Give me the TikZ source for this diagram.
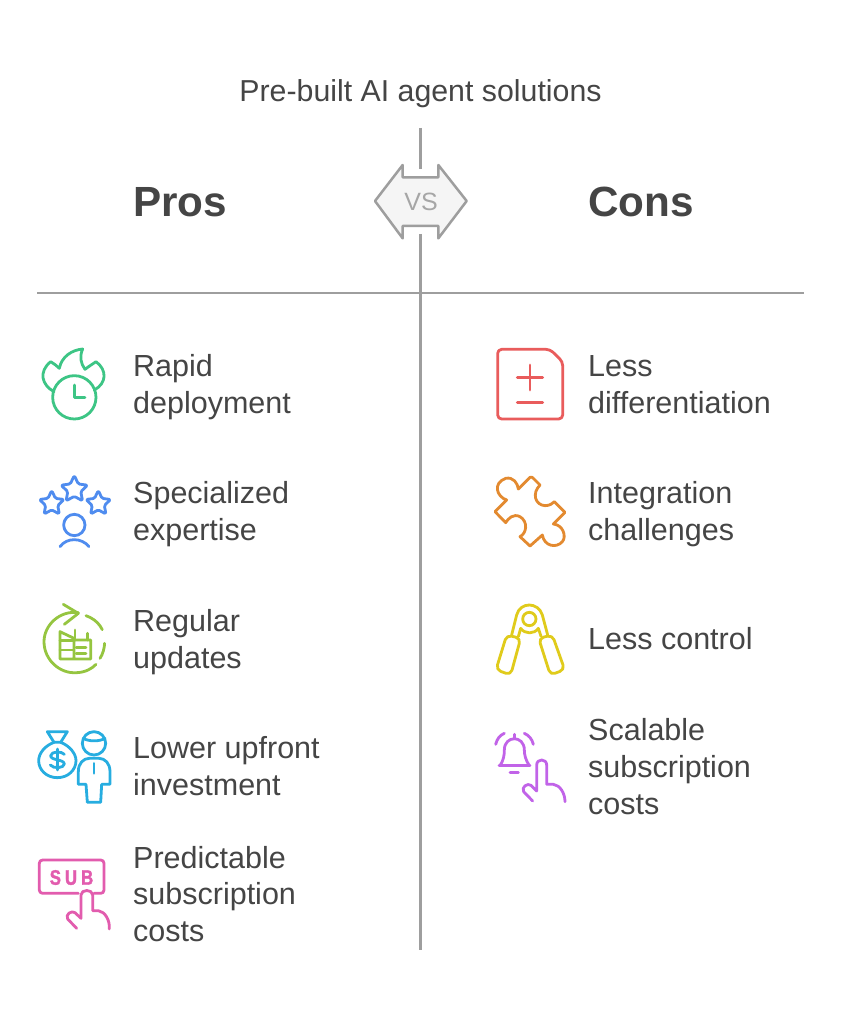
\documentclass[tikz,border=0pt]{standalone}
\usepackage{fontspec}
\setmainfont{Liberation Sans}
\newfontfamily\subfont[FakeStretch=0.8,FakeBold=1.6]{Liberation Sans Bold}
\usetikzlibrary{shapes.geometric}
\definecolor{txt}{HTML}{454545}
\definecolor{rule}{HTML}{9E9E9E}
\definecolor{vsfill}{HTML}{F5F5F5}
\definecolor{vstxt}{HTML}{A6A6A6}
\definecolor{cgreen}{HTML}{3DC585}
\definecolor{cblue}{HTML}{4F8CEF}
\definecolor{clime}{HTML}{95C540}
\definecolor{ccyan}{HTML}{27ADE0}
\definecolor{cpink}{HTML}{E25CAE}
\definecolor{cred}{HTML}{E95C5C}
\definecolor{corange}{HTML}{E38A30}
\definecolor{cyellow}{HTML}{E0CB1B}
\definecolor{cpurple}{HTML}{C163E8}
\tikzset{
  rulel/.style={draw=rule,line width=2.7pt},
  ttl/.style={font=\fontsize{30.3}{35}\selectfont,text=txt,inner sep=0pt},
  head/.style={font=\fontsize{42.2}{50}\selectfont\bfseries,text=txt,inner sep=0pt,anchor=west},
  item/.style={font=\fontsize{30.5}{36.7}\selectfont,text=txt,inner sep=0pt,anchor=west,align=left},
  ic/.style={line width=2.8pt,line join=round,line cap=round},
  zoomed/.style={x=0.33333pt,y=-0.33333pt}
}
\begin{document}
\begin{tikzpicture}[x=1pt,y=-1pt]
\useasboundingbox (0,0) rectangle (842,1024);
\fill[white] (0,0) rectangle (842,1024);
% rules
\coordinate (vt) at (420.5,128);
\coordinate (vu) at (420.5,169.5);
\coordinate (vl) at (420.5,234);
\coordinate (vb) at (420.5,950);
\coordinate (hl) at (37,293);
\coordinate (hr) at (804,293);
\draw[rulel] (vt) -- (vu);
\draw[rulel] (vl) -- (vb);
\draw[rulel] (hl) -- (hr);
% VS badge
\begin{scope}[shift={(360,120)},zoomed]
\draw[draw=rule,fill=vsfill,line width=2.5pt,line join=round]
  (45,243) -- (128,135) -- (128,172) -- (235,172) -- (235,135) -- (320,243)
  -- (235,355) -- (235,318) -- (128,318) -- (128,355) -- cycle;
\end{scope}
\node[font=\fontsize{25}{30}\selectfont,text=vstxt,inner sep=0pt] (vs) at (421,201.5) {VS};
% texts
\node[ttl] (title) at (420.5,95) {\strut Pre-built AI agent solutions};
\node[head] (pros) at (133,202) {Pros};
\node[head] (cons) at (588,202) {Cons};
\node[item] (p1) at (133,387.5) {\strut Rapid\\\strut deployment};
\node[item] (p2) at (133,515) {\strut Specialized\\\strut expertise};
\node[item] (p3) at (133,642.5) {\strut Regular\\\strut updates};
\node[item] (p4) at (133,770) {\strut Lower upfront\\\strut investment};
\node[item] (p5) at (133,897.5) {\strut Predictable\\\strut subscription\\\strut costs};
\node[item] (c1) at (588,387.5) {\strut Less\\\strut differentiation};
\node[item] (c2) at (588,515) {\strut Integration\\\strut challenges};
\node[item] (c3) at (588,642.5) {\strut Less control};
\node[item] (c4) at (588,770) {\strut Scalable\\\strut subscription\\\strut costs};
% flame clock + stars
\begin{scope}[shift={(30,340)},zoomed]
\draw[ic,cgreen] (133,172) circle (65);
\draw[ic,cgreen] (133,135) -- (133,172) -- (165,172);
\draw[ic,cgreen] (72,155) .. controls (35,135) and (25,95) .. (62,65)
  .. controls (72,70) and (80,78) .. (88,85)
  .. controls (95,50) and (125,30) .. (158,27)
  .. controls (148,50) and (152,70) .. (165,88)
  .. controls (175,80) and (188,72) .. (198,65)
  .. controls (232,90) and (230,130) .. (193,150);
\draw[ic,cblue] (133,555) circle (32);
\draw[ic,cblue] (90,620) .. controls (110,592) and (155,592) .. (177,620);
\end{scope}
\tikzset{starn/.style={star,star points=5,star point ratio=2.05,draw=cblue,line width=2.8pt,rounded corners=1.5pt,line join=round,inner sep=0pt,minimum size=#1}}
\node[starn=28pt] (s1) at (74.3,489.5) {};
\node[starn=26pt] (s2) at (51.7,503.5) {};
\node[starn=26pt] (s3) at (98.3,503.5) {};
% updates, money, sub
\begin{scope}[shift={(30,595)},zoomed]
\draw[ic,clime] (145,53) .. controls (90,45) and (42,90) .. (42,140)
  .. controls (42,195) and (90,237) .. (140,233) .. controls (165,232) and (185,222) .. (198,208);
\draw[ic,clime] (100,28) -- (145,55) -- (103,88);
\draw[ic,clime,dash pattern=on 22pt off 14pt] (168,62) .. controls (205,75) and (225,105) .. (224,140) .. controls (224,160) and (218,178) .. (210,190);
\draw[ic,clime] (132,192) -- (90,192) -- (90,110) -- (132,130) -- (132,192) -- (182,192) -- (182,135) -- (132,135);
\draw[ic,clime] (135,105) -- (135,130);
\draw[ic,clime] (172,115) -- (172,135);
\draw[ic,clime] (90,137) -- (128,137);
\draw[ic,clime] (90,165) -- (128,165);
\draw[ic,clime] (138,158) -- (168,158);
\draw[ic,clime] (138,175) -- (168,175);
% money bag
\draw[ic,ccyan] (52,410) -- (112,410) -- (92,442) -- (72,442) -- cycle;
\draw[ic,ccyan] (72,442) .. controls (45,452) and (26,475) .. (26,497)
  .. controls (26,525) and (50,548) .. (82,548) .. controls (114,548) and (138,525) .. (138,497)
  .. controls (138,475) and (118,452) .. (92,442);
\draw[ic,ccyan] (82,462) -- (82,525);
\draw[ic,ccyan] (103,478) .. controls (95,468) and (64,468) .. (62,482) .. controls (62,497) and (102,492) .. (103,507) .. controls (102,520) and (70,522) .. (61,510);
% person
\draw[ic,ccyan] (192,445) circle (35);
\draw[ic,ccyan] (160,430) .. controls (175,440) and (210,440) .. (225,430);
\draw[ic,ccyan] (145,568) -- (145,530) .. controls (145,505) and (160,490) .. (178,490)
  -- (207,490) .. controls (225,490) and (240,505) .. (240,530) -- (240,568) -- (215,568)
  -- (212,622) -- (172,622) -- (168,568) -- cycle;
\draw[ic,ccyan] (192,505) -- (192,535);
% sub
\draw[ic,cpink] (145,895) -- (38,895) .. controls (32,895) and (28,891) .. (28,885) -- (28,805)
  .. controls (28,799) and (32,795) .. (38,795) -- (212,795) .. controls (218,795) and (222,799) .. (222,805)
  -- (222,885) .. controls (222,891) and (218,895) .. (212,895) -- (192,895);
\draw[ic,cpink] (140,1000) -- (113,972) .. controls (105,958) and (125,945) .. (135,953)
  -- (153,970) -- (153,900) .. controls (153,882) and (188,882) .. (188,900) -- (188,947)
  -- (205,947) .. controls (225,950) and (240,975) .. (238,1002);
\end{scope}
\node[font=\fontsize{21}{24}\subfont,text=cpink,inner sep=0pt] (sub) at (71.5,877.5) {S\hspace{4pt}U\hspace{4pt}B};
% right column
\begin{scope}[shift={(485,340)},zoomed]
\draw[ic,cred,rounded corners=4pt] (38,28) -- (195,28) -- (233,65) -- (233,237) -- (38,237) -- cycle;
\draw[ic,cred] (135,75) -- (135,150);
\draw[ic,cred] (97,112) -- (173,112);
\draw[ic,cred] (97,188) -- (173,188);
\draw[ic,corange] (65,480) .. controls (35,470) and (22,430) .. (62,415)
  .. controls (85,410) and (98,430) .. (100,447) -- (135,412) .. controls (140,410) and (142,412) .. (145,415) -- (165,435)
  .. controls (140,460) and (150,495) .. (180,497) .. controls (195,497) and (203,490) .. (208,485)
  -- (240,517) -- (205,552) .. controls (235,555) and (245,590) .. (232,605)
  .. controls (215,625) and (178,620) .. (172,585) -- (135,618) -- (105,590)
  .. controls (125,580) and (130,545) .. (105,530) .. controls (85,520) and (70,535) .. (62,548)
  -- (30,515) -- cycle;
\end{scope}
\begin{scope}[shift={(485,595)},zoomed]
\draw[ic,cyellow] (133,72) circle (20);
\draw[ic,cyellow] (80,120) -- (95,60) .. controls (105,20) and (160,20) .. (172,60) -- (188,120);
\draw[ic,cyellow] (100,125) -- (107,100) .. controls (120,118) and (148,118) .. (160,100) -- (168,124);
\draw[ic,cyellow,rounded corners=5pt] (65,120) -- (107,130) -- (77,240) -- (33,224) -- cycle;
\draw[ic,cyellow,rounded corners=5pt] (161,130) -- (202,120) -- (239,224) -- (196,240) -- cycle;
% bell
\draw[ic,cpurple] (88,418) -- (88,430);
\draw[ic,cpurple] (42,512) -- (135,512);
\draw[ic,cpurple] (45,512) .. controls (56,495) and (58,480) .. (58,465) .. controls (58,420) and (118,420) .. (118,465)
  .. controls (118,480) and (122,495) .. (133,512);
\draw[ic,cpurple] (75,533) -- (100,533);
\draw[ic,cpurple] (32,448) .. controls (36,432) and (44,421) .. (58,415);
\draw[ic,cpurple] (118,415) .. controls (132,421) and (141,432) .. (145,448);
\draw[ic,cpurple] (143,618) -- (116,590) .. controls (108,576) and (128,563) .. (138,571)
  -- (155,588) -- (155,510) .. controls (155,490) and (185,490) .. (185,510) -- (185,568)
  -- (205,568) .. controls (225,570) and (240,595) .. (240,620);
\end{scope}
\end{tikzpicture}
\end{document}
